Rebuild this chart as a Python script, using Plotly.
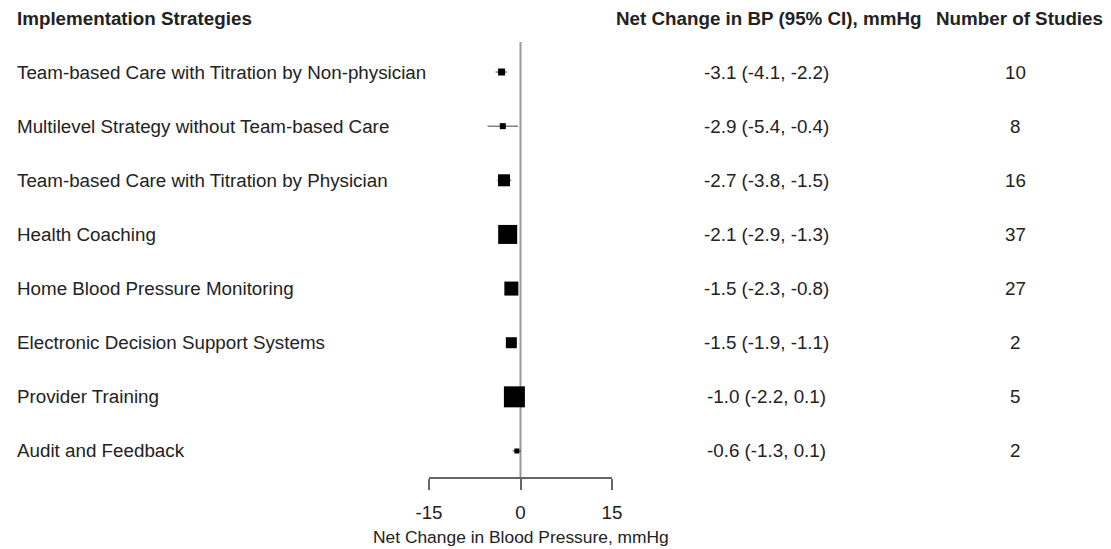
import plotly.graph_objects as go

# Forest plot: implementation strategies vs net change in blood pressure
strategies = [
    "Team-based Care with Titration by Non-physician",
    "Multilevel Strategy without Team-based Care",
    "Team-based Care with Titration by Physician",
    "Health Coaching",
    "Home Blood Pressure Monitoring",
    "Electronic Decision Support Systems",
    "Provider Training",
    "Audit and Feedback",
]
net_change = [-3.1, -2.9, -2.7, -2.1, -1.5, -1.5, -1.0, -0.6]
ci_low = [-4.1, -5.4, -3.8, -2.9, -2.3, -1.9, -2.2, -1.3]
ci_high = [-2.2, -0.4, -1.5, -1.3, -0.8, -1.1, 0.1, 0.1]
n_studies = [10, 8, 16, 37, 27, 2, 5, 2]
# square size (px) reflects the weight of each pooled estimate
box_px = [7, 6, 12, 19, 14, 11, 21, 5]

tick_vals = [-15, 0, 15]

W, H = 1111, 549
FONT = "Liberation Sans, Arial, sans-serif"
TXT = "#222222"
LABEL_SIZE = 18.8
TITLE_SIZE = 17.4


def px_x(p):
    return p / W


def px_y(p):
    return 1 - p / H


rows = list(range(len(strategies)))

fig = go.Figure()

# confidence intervals
for i in rows:
    fig.add_trace(go.Scatter(
        x=[ci_low[i], ci_high[i]], y=[i, i], mode="lines",
        line=dict(color="#444444", width=1), hoverinfo="skip", showlegend=False,
    ))

# point estimates
fig.add_trace(go.Scatter(
    x=net_change, y=rows, mode="markers", opacity=1,
    marker=dict(symbol="square", size=box_px, color="black", opacity=1,
                line=dict(width=0)),
    showlegend=False,
))

# line of no effect
fig.add_shape(type="line", xref="x", yref="y domain", x0=0, x1=0, y0=0, y1=1,
              line=dict(color="#9a9a9a", width=2), layer="below")

annotations = []
# column headers
header_y = px_y(18)
hdr_font = dict(size=LABEL_SIZE, color=TXT)
annotations.append(dict(xref="paper", yref="paper", x=px_x(15), y=header_y,
                        text="<b>Implementation Strategies</b>", showarrow=False,
                        xanchor="left", yanchor="middle", font=hdr_font))
annotations.append(dict(xref="paper", yref="paper", x=px_x(768), y=header_y,
                        text="<b>Net Change in BP (95% CI), mmHg</b>", showarrow=False,
                        xanchor="center", yanchor="middle", font=hdr_font))
annotations.append(dict(xref="paper", yref="paper", x=px_x(1020), y=header_y,
                        text="<b>Number of Studies</b>", showarrow=False,
                        xanchor="center", yanchor="middle", font=hdr_font))

for i in rows:
    annotations.append(dict(xref="paper", yref="y", x=px_x(15), y=i,
                            text=strategies[i], showarrow=False,
                            xanchor="left", yanchor="middle",
                            font=dict(size=LABEL_SIZE, color=TXT)))
    annotations.append(dict(xref="paper", yref="y", x=px_x(766.5), y=i,
                            text=f"{net_change[i]:.1f} ({ci_low[i]:.1f}, {ci_high[i]:.1f})",
                            showarrow=False, xanchor="center", yanchor="middle",
                            font=dict(size=LABEL_SIZE, color=TXT)))
    annotations.append(dict(xref="paper", yref="y", x=px_x(1015), y=i,
                            text=str(n_studies[i]), showarrow=False,
                            xanchor="center", yanchor="middle",
                            font=dict(size=LABEL_SIZE, color=TXT)))

# x-axis title
annotations.append(dict(xref="x", yref="paper", x=0, y=px_y(537),
                        text="Net Change in Blood Pressure, mmHg", showarrow=False,
                        xanchor="center", yanchor="middle",
                        font=dict(size=TITLE_SIZE, color=TXT)))

fig.update_layout(
    width=W, height=H,
    margin=dict(l=0, r=0, t=0, b=0, pad=0, autoexpand=False),
    paper_bgcolor="white", plot_bgcolor="white",
    font=dict(family=FONT, size=16, color=TXT),
    annotations=annotations,
    xaxis=dict(
        domain=[px_x(429), px_x(612)], range=[-15, 15], automargin=False,
        tickvals=tick_vals, ticktext=[str(v) for v in tick_vals],
        showgrid=False, zeroline=False,
        showline=True, linecolor="#666666", linewidth=1.5,
        ticks="outside", ticklen=11, tickwidth=1.5, tickcolor="#666666",
        ticklabelstandoff=7,
        tickfont=dict(size=LABEL_SIZE, color=TXT),
    ),
    yaxis=dict(
        domain=[px_y(477), px_y(42)], automargin=False,
        range=[7 + (477 - 451) / 54.1, -(72 - 42) / 54.1],
        showgrid=False, zeroline=False, showticklabels=False, showline=False,
    ),
)

fig.write_html("out.html")
